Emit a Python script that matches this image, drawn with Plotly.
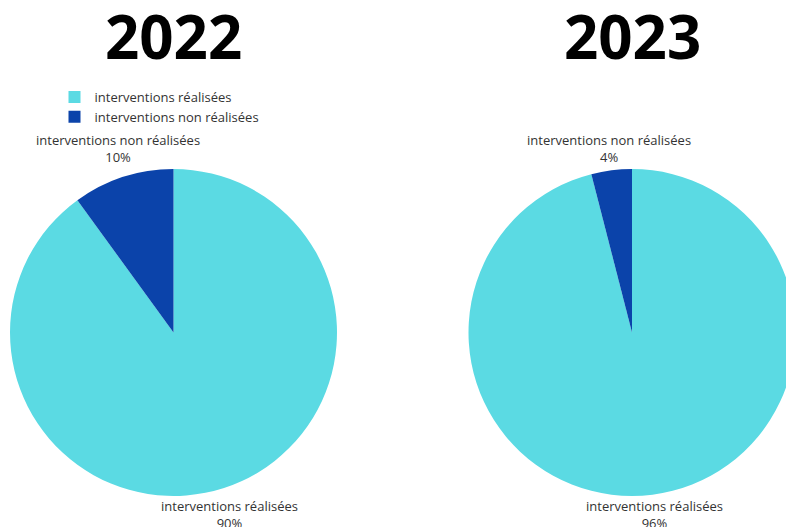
import math
import plotly.graph_objects as go

categories = ["interventions réalisées", "interventions non réalisées"]
years = ["2022", "2023"]
values_2022 = [90, 10]
values_2023 = [96, 4]
colors = ["#5BDAE3", "#0B43AA"]

W, H = 800, 527
# pie geometry in pixels (center x, center y, radius)
PIES = [(173.5, 332.5, 163.5), (632.0, 332.5, 163.5)]

fig = go.Figure()

annotations = []
for i, (year, vals) in enumerate(zip(years, [values_2022, values_2023])):
    cx, cy, r = PIES[i]
    fig.add_trace(go.Pie(
        labels=categories, values=vals, sort=False, direction="clockwise",
        rotation=0, textinfo="none", automargin=False,
        marker=dict(colors=colors, line=dict(width=0)),
        domain=dict(x=[max(0, (cx - r - 4)) / W, min(W, cx + r + 4) / W],
                    y=[1 - (cy + r) / H, 1 - (cy - r) / H]),
        legend="legend" if i == 0 else "legend2",
        hoverinfo="label+percent",
    ))
    # outside labels positioned from the slice mid-angles
    total = sum(vals)
    start = 0.0
    for lab, v in zip(categories, vals):
        frac = v / total
        mid = (start + frac / 2) * 2 * math.pi  # clockwise from 12 o'clock
        start += frac
        px = cx + 1.1 * r * math.sin(mid)
        top_half = math.cos(mid) > 0
        py = cy - 1.005 * r if top_half else cy + 0.995 * r
        pct = round(100 * frac)
        annotations.append(dict(
            text=f"{lab}<br>{pct}%", x=px / W, y=1 - py / H,
            xref="paper", yref="paper", xanchor="center",
            yanchor="bottom" if top_half else "top",
            showarrow=False, align="center",
            font=dict(family="Open Sans", size=13, color="#333333"),
        ))
    annotations.append(dict(
        text=year, x=cx / W, y=1 - 36 / H, xref="paper", yref="paper",
        xanchor="center", yanchor="middle", showarrow=False,
        font=dict(family="Open Sans", size=60, color="#000000", weight="bold"),
    ))

legend_style = dict(
    xanchor="center", yanchor="middle", y=1 - 107 / H,
    font=dict(family="Open Sans", size=13, color="#333333"),
    bgcolor="rgba(0,0,0,0)", itemwidth=30, tracegroupgap=0,
)

fig.update_layout(
    width=W, height=H, autosize=False,
    margin=dict(l=0, r=0, t=0, b=0, autoexpand=False),
    paper_bgcolor="white", plot_bgcolor="white",
    showlegend=True,
    legend=dict(x=(PIES[0][0] - 14) / W, **legend_style),
    legend2=dict(x=(PIES[1][0] - 14) / W, **legend_style),
    annotations=annotations,
)

fig.write_html(
    "out.html",
    config={"displayModeBar": False},
    post_script="document.body.style.margin='0';document.body.style.overflow='hidden';document.documentElement.style.overflow='hidden';",
)
